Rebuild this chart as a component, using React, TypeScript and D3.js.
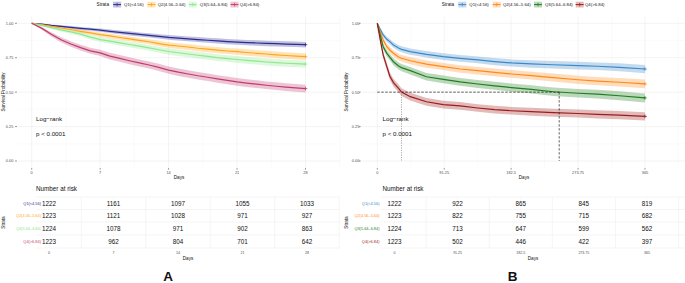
import React from "react";
import * as d3 from "d3";

// ---------- data ----------
const strataLabels = ["Q1(<4.56)", "Q2(4.56–5.64)", "Q3(5.64–6.84)", "Q4(>6.84)"];
const colorsA = ["#2B2B94", "#FFA61A", "#8EE88E", "#C23B6E"];
const colorsB = ["#3A89C9", "#FF8A1C", "#1F7F1F", "#9E1B1B"];

const yTicks = [0, 0.25, 0.5, 0.75, 1];
const yTickLabels = ["0.00", "0.25", "0.50", "0.75", "1.00"];

// Panel A (days 0-28)
const timesA = [0, 1, 2, 3, 4, 5, 6, 7, 8, 9, 10, 11, 12, 13, 14, 15, 16, 17, 18, 19, 20, 21, 22, 23, 24, 25, 26, 27, 28];
const survA_Q1 = [1, 0.995, 0.985, 0.977, 0.97, 0.963, 0.957, 0.95, 0.942, 0.934, 0.927, 0.919, 0.912, 0.905, 0.898, 0.893, 0.887, 0.882, 0.877, 0.872, 0.867, 0.863, 0.86, 0.857, 0.854, 0.852, 0.849, 0.847, 0.845];
const survA_Q2 = [1, 0.99, 0.978, 0.966, 0.955, 0.942, 0.93, 0.918, 0.908, 0.897, 0.887, 0.876, 0.866, 0.853, 0.842, 0.835, 0.828, 0.819, 0.812, 0.805, 0.799, 0.794, 0.788, 0.782, 0.777, 0.771, 0.766, 0.762, 0.758];
const survA_Q3 = [1, 0.985, 0.968, 0.952, 0.938, 0.921, 0.9, 0.882, 0.87, 0.858, 0.846, 0.834, 0.822, 0.808, 0.795, 0.786, 0.777, 0.768, 0.76, 0.751, 0.744, 0.737, 0.731, 0.725, 0.719, 0.714, 0.71, 0.707, 0.704];
const survA_Q4 = [1, 0.965, 0.92, 0.88, 0.85, 0.823, 0.8, 0.785, 0.762, 0.745, 0.728, 0.712, 0.697, 0.68, 0.66, 0.645, 0.632, 0.619, 0.608, 0.596, 0.585, 0.574, 0.566, 0.558, 0.55, 0.543, 0.537, 0.531, 0.526];
const ciA_Q1 = [0, 0.004, 0.007, 0.008, 0.01, 0.011, 0.011, 0.012, 0.013, 0.014, 0.015, 0.015, 0.016, 0.016, 0.017, 0.017, 0.018, 0.018, 0.018, 0.019, 0.019, 0.019, 0.019, 0.02, 0.02, 0.02, 0.02, 0.02, 0.02];
const ciA_Q2 = [0, 0.006, 0.008, 0.01, 0.012, 0.013, 0.014, 0.015, 0.016, 0.017, 0.018, 0.018, 0.019, 0.02, 0.02, 0.021, 0.021, 0.022, 0.022, 0.022, 0.022, 0.023, 0.023, 0.023, 0.023, 0.024, 0.024, 0.024, 0.024];
const ciA_Q3 = [0, 0.007, 0.01, 0.012, 0.013, 0.015, 0.017, 0.018, 0.019, 0.02, 0.02, 0.021, 0.021, 0.022, 0.023, 0.023, 0.023, 0.024, 0.024, 0.024, 0.024, 0.025, 0.025, 0.025, 0.025, 0.025, 0.025, 0.025, 0.026];
const ciA_Q4 = [0, 0.01, 0.015, 0.018, 0.02, 0.021, 0.022, 0.023, 0.024, 0.024, 0.025, 0.025, 0.026, 0.026, 0.027, 0.027, 0.027, 0.027, 0.027, 0.027, 0.028, 0.028, 0.028, 0.028, 0.028, 0.028, 0.028, 0.028, 0.028];
const xTicksA = [0, 7, 14, 21, 28];
const xTickLabelsA = ["0", "7", "14", "21", "28"];
const riskA_Q1 = [1222, 1161, 1097, 1055, 1033];
const riskA_Q2 = [1223, 1121, 1028, 971, 927];
const riskA_Q3 = [1224, 1078, 971, 902, 863];
const riskA_Q4 = [1223, 962, 804, 701, 642];

// Panel B (days 0-365)
const timesB = [0, 4, 8, 13, 17, 22, 29, 33, 45, 67, 90, 113, 137, 160, 183, 210, 240, 274, 300, 330, 365];
const survB_Q1 = [1, 0.956, 0.915, 0.884, 0.867, 0.842, 0.82, 0.811, 0.794, 0.775, 0.758, 0.745, 0.734, 0.722, 0.712, 0.705, 0.699, 0.693, 0.688, 0.68, 0.668];
const survB_Q2 = [1, 0.939, 0.879, 0.83, 0.806, 0.782, 0.755, 0.746, 0.728, 0.704, 0.686, 0.668, 0.656, 0.643, 0.632, 0.62, 0.606, 0.59, 0.58, 0.572, 0.56];
const survB_Q3 = [1, 0.915, 0.83, 0.782, 0.755, 0.721, 0.69, 0.678, 0.656, 0.612, 0.593, 0.574, 0.559, 0.546, 0.533, 0.52, 0.503, 0.492, 0.485, 0.474, 0.458];
const survB_Q4 = [1, 0.879, 0.77, 0.685, 0.617, 0.569, 0.528, 0.5, 0.467, 0.43, 0.41, 0.4, 0.385, 0.373, 0.365, 0.358, 0.351, 0.345, 0.338, 0.333, 0.324];
const ciB_Q1 = [0, 0.012, 0.016, 0.018, 0.019, 0.02, 0.022, 0.022, 0.023, 0.023, 0.024, 0.025, 0.025, 0.026, 0.026, 0.027, 0.027, 0.028, 0.028, 0.029, 0.03];
const ciB_Q2 = [0, 0.013, 0.018, 0.021, 0.022, 0.023, 0.024, 0.024, 0.025, 0.026, 0.026, 0.027, 0.027, 0.028, 0.028, 0.029, 0.029, 0.03, 0.03, 0.031, 0.032];
const ciB_Q3 = [0, 0.016, 0.021, 0.023, 0.024, 0.025, 0.026, 0.026, 0.027, 0.027, 0.028, 0.028, 0.029, 0.029, 0.03, 0.03, 0.031, 0.031, 0.032, 0.032, 0.033];
const ciB_Q4 = [0, 0.018, 0.024, 0.026, 0.027, 0.028, 0.028, 0.028, 0.028, 0.028, 0.028, 0.028, 0.028, 0.028, 0.028, 0.029, 0.029, 0.029, 0.03, 0.03, 0.03];
const xTicksB = [0, 91.25, 182.5, 273.75, 365];
const xTickLabelsB = ["0", "91.25", "182.5", "273.75", "365"];
const riskB_Q1 = [1222, 922, 865, 845, 819];
const riskB_Q2 = [1223, 822, 755, 715, 682];
const riskB_Q3 = [1224, 713, 647, 599, 562];
const riskB_Q4 = [1223, 502, 446, 422, 397];
const mediansB = [33, 248]; // Q4, Q3 median survival days

// ---------- drawing ----------
const FONT = "'Liberation Sans', Arial, Helvetica, sans-serif";
const GRID_MAJOR = "#EBEBEB";
const GRID_MINOR = "#F4F4F4";

type PanelCfg = {
  ox: number;
  panelL: number; panelR: number;
  x0: number; x1: number; xMax: number; step: number;
  yLabelRight: number; yTitleX: number; daysX: number;
  legendX: number; logX: number;
  tblL: number; tblX0: number; tblX1: number; tblLabelRight: number; tblDaysX: number; strataX: number;
  letterX: number; letter: string;
};

function Panel({ cfg, times, surv, ci, colors, xTicks, xTickLabels, risk, medians }: any) {
  const c: PanelCfg = cfg;
  const y = d3.scaleLinear().domain([0, 1]).range([161, 23.3]);
  const x = d3.scaleLinear().domain([0, c.xMax]).range([c.x0, c.x1]);
  const xt = d3.scaleLinear().domain([0, c.xMax]).range([c.tblX0, c.tblX1]);
  const panelTop = 16.4, panelBot = 168;
  const minorX: number[] = [];
  for (let v = -c.step / 2; x(v) <= c.panelR + 0.5; v += c.step) if (x(v) >= c.panelL) minorX.push(v);
  const minorXt: number[] = [];
  for (let v = -c.step / 2; xt(v) <= c.panelR + 0.5; v += c.step) if (xt(v) >= c.tblL) minorXt.push(v);
  const majorXt = xTicks.filter((v: number) => xt(v) <= c.panelR);
  const minorY = [0.125, 0.375, 0.625, 0.875];

  const line = d3.line<number>().x((_, i) => x(times[i])).y((d) => y(d));
  const area = (s: number[], h: number[]) =>
    d3.area<number>().x((_, i) => x(times[i])).y0((d, i) => y(d - h[i])).y1((d, i) => y(Math.min(1, d + h[i])))(s) || "";

  const rowY = [203.3, 215.8, 228.4, 241.6];
  const rowLines = [197, 209.5, 222, 235, 248];

  const legItems = [
    { key: 16.6, text: 27.6 },
    { key: 51, text: 61.2 },
    { key: 92.3, text: 103.3 },
    { key: 134, text: 143.3 },
  ];
  const legY = 4.6;

  return (
    <g>
      {minorY.map((v) => (
        <line key={"my" + v} x1={c.panelL} x2={c.panelR} y1={y(v)} y2={y(v)} stroke={GRID_MINOR} strokeWidth={0.35} />
      ))}
      {minorX.map((v) => (
        <line key={"mx" + v} x1={x(v)} x2={x(v)} y1={panelTop} y2={panelBot} stroke={GRID_MINOR} strokeWidth={0.35} />
      ))}
      {yTicks.map((v) => (
        <line key={"gy" + v} x1={c.panelL} x2={c.panelR} y1={y(v)} y2={y(v)} stroke={GRID_MAJOR} strokeWidth={0.6} />
      ))}
      {xTicks.map((v: number) => (
        <line key={"gx" + v} x1={x(v)} x2={x(v)} y1={panelTop} y2={panelBot} stroke={GRID_MAJOR} strokeWidth={0.6} />
      ))}
      {surv.map((s: number[], k: number) => (
        <path key={"r" + k} d={area(s, ci[k])} fill={colors[k]} fillOpacity={0.3} stroke="none" />
      ))}
      {surv.map((s: number[], k: number) => (
        <path key={"l" + k} d={line(s) || ""} fill="none" stroke={colors[k]} strokeWidth={1.2} />
      ))}
      {surv.map((s: number[], k: number) => {
        const px = x(times[times.length - 1]);
        const py = y(s[s.length - 1]);
        return (
          <g key={"c" + k} stroke={colors[k]} strokeWidth={0.8}>
            <line x1={px - 1.8} x2={px + 1.8} y1={py} y2={py} />
            <line x1={px} x2={px} y1={py - 1.8} y2={py + 1.8} />
          </g>
        );
      })}
      {medians && medians.length > 0 && (
        <g fill="none">
          <line x1={x(0)} x2={x(d3.max(medians) as number)} y1={y(0.5)} y2={y(0.5)} stroke="#111" strokeWidth={0.7} strokeDasharray="2.4,1.6" />
          {medians.map((m: number, i: number) => (
            <line key={"md" + i} x1={x(m)} x2={x(m)} y1={y(0.5)} y2={y(0)} stroke={i === 0 ? "#8a8a8a" : "#222"} strokeWidth={0.7} strokeDasharray={i === 0 ? "1.2,1.2" : "2.4,1.6"} />
          ))}
        </g>
      )}
      {yTicks.map((v, i) => (
        <g key={"yt" + v}>
          <line x1={c.panelL - 3} x2={c.panelL - 1} y1={y(v)} y2={y(v)} stroke="#333" strokeWidth={0.5} />
          <text x={c.yLabelRight} y={y(v)} dy="0.35em" textAnchor="end" fontSize={3.9} fill="#4d4d4d">{yTickLabels[i]}</text>
        </g>
      ))}
      <text transform={`translate(${c.yTitleX},92) rotate(-90)`} textAnchor="middle" fontSize={4.6} fill="#111" dy="0.35em">Survival Probability</text>
      {xTicks.map((v: number, i: number) => (
        <g key={"xt" + v}>
          <line x1={x(v)} x2={x(v)} y1={panelBot} y2={panelBot + 1.6} stroke="#333" strokeWidth={0.5} />
          <text x={x(v)} y={172.3} dy="0.35em" textAnchor="middle" fontSize={3.9} fill="#4d4d4d">{xTickLabels[i]}</text>
        </g>
      ))}
      <text x={c.daysX} y={177.8} dy="0.35em" textAnchor="middle" fontSize={4.6} fill="#111">Days</text>
      <text x={c.logX} y={120.8} fontSize={6.2} fill="#111">Log−rank</text>
      <text x={c.logX} y={136.2} fontSize={6.2} fill="#111">p &lt; 0.0001</text>
      <text x={c.legendX} y={legY} dy="0.35em" fontSize={4.7} fill="#111">Strata</text>
      {legItems.map((it, k) => (
        <g key={"lg" + k}>
          <rect x={c.legendX + it.key} y={legY - 2.9} width={8} height={5.8} fill={colors[k]} fillOpacity={0.3} />
          <line x1={c.legendX + it.key} x2={c.legendX + it.key + 8} y1={legY} y2={legY} stroke={colors[k]} strokeWidth={1} />
          <line x1={c.legendX + it.key + 4} x2={c.legendX + it.key + 4} y1={legY - 1.8} y2={legY + 1.8} stroke={colors[k]} strokeWidth={0.7} />
          <text x={c.legendX + it.text} y={legY} dy="0.35em" fontSize={4.3} fill="#111">{strataLabels[k]}</text>
        </g>
      ))}
      <text x={c.logX} y={189.2} dy="0.35em" fontSize={6.3} fill="#111">Number at risk</text>
      {rowLines.map((ry) => (
        <line key={"rl" + ry} x1={c.tblL} x2={c.panelR} y1={ry} y2={ry} stroke={GRID_MAJOR} strokeWidth={0.5} />
      ))}
      {minorXt.map((v) => (
        <line key={"tmx" + v} x1={xt(v)} x2={xt(v)} y1={197} y2={248} stroke={GRID_MAJOR} strokeWidth={0.5} />
      ))}
      {majorXt.map((v: number) => (
        <line key={"tgx" + v} x1={xt(v)} x2={xt(v)} y1={197} y2={248} stroke={GRID_MINOR} strokeWidth={0.5} />
      ))}
      {risk.map((row: number[], k: number) => (
        <g key={"rk" + k}>
          <text x={c.tblLabelRight} y={rowY[k]} dy="0.35em" textAnchor="end" fontSize={3.9} fill={colors[k]}>{strataLabels[k]}</text>
          {row.map((n, j) => (
            <text key={j} x={xt(xTicks[j])} y={rowY[k]} dy="0.35em" textAnchor="middle" fontSize={6.3} fill="#111">{n}</text>
          ))}
        </g>
      ))}
      <text transform={`translate(${c.strataX},222.5) rotate(-90)`} textAnchor="middle" fontSize={4.6} fill="#111" dy="0.35em">Strata</text>
      {xTicks.map((v: number, i: number) => (
        <text key={"tt" + v} x={xt(v)} y={253} dy="0.35em" textAnchor="middle" fontSize={3.6} fill="#4d4d4d">{xTickLabels[i]}</text>
      ))}
      <text x={c.tblDaysX} y={258.8} dy="0.35em" textAnchor="middle" fontSize={4.6} fill="#111">Days</text>
      <text x={c.letterX} y={281.3} textAnchor="middle" fontSize={13.5} fontWeight="bold" fill="#111">{c.letter}</text>
    </g>
  );
}

const cfgA: PanelCfg = {
  ox: 0, panelL: 18, panelR: 340, x0: 31.7, x1: 305.5, xMax: 28, step: 7,
  yLabelRight: 13.4, yTitleX: 3, daysX: 179, legendX: 96.5, logX: 36,
  tblL: 36, tblX0: 49, tblX1: 307, tblLabelRight: 41, tblDaysX: 188, strataX: 3,
  letterX: 168, letter: "A",
};
const cfgB: PanelCfg = {
  ox: 340, panelL: 361.7, panelR: 685, x0: 377.3, x1: 645, xMax: 365, step: 91.25,
  yLabelRight: 359.3, yTitleX: 346.7, daysX: 524, legendX: 441.7, logX: 382.5,
  tblL: 381, tblX0: 394.5, tblX1: 647, tblLabelRight: 379.5, tblDaysX: 533, strataX: 346.5,
  letterX: 512.5, letter: "B",
};

export default function App() {
  return (
    <svg width={685} height={283} viewBox="0 0 685 283" style={{ position: "absolute", left: 0, top: 0, background: "#fff" }} fontFamily={FONT}>
      <rect width={685} height={283} fill="#fff" />
      <Panel
        cfg={cfgA}
        times={timesA}
        surv={[survA_Q1, survA_Q2, survA_Q3, survA_Q4]}
        ci={[ciA_Q1, ciA_Q2, ciA_Q3, ciA_Q4]}
        colors={colorsA}
        xTicks={xTicksA}
        xTickLabels={xTickLabelsA}
        risk={[riskA_Q1, riskA_Q2, riskA_Q3, riskA_Q4]}
        medians={[]}
      />
      <Panel
        cfg={cfgB}
        times={timesB}
        surv={[survB_Q1, survB_Q2, survB_Q3, survB_Q4]}
        ci={[ciB_Q1, ciB_Q2, ciB_Q3, ciB_Q4]}
        colors={colorsB}
        xTicks={xTicksB}
        xTickLabels={xTickLabelsB}
        risk={[riskB_Q1, riskB_Q2, riskB_Q3, riskB_Q4]}
        medians={mediansB}
      />
    </svg>
  );
}
